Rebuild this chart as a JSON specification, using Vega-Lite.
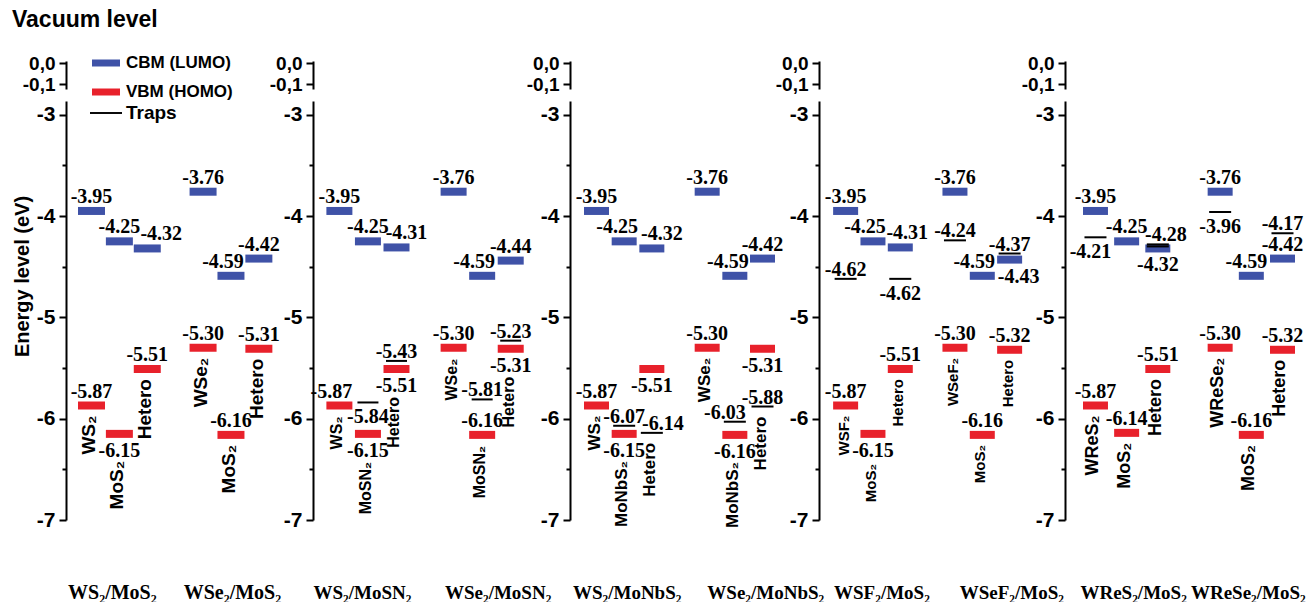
{
"$schema": "https://vega.github.io/schema/vega-lite/v6.json",
"padding": {"left": 12, "top": 9, "right": 0, "bottom": 0},
"background": "white",
"title": {"text": "Vacuum level", "anchor": "start", "frame": "bounds", "font": "Liberation Sans", "fontSize": 23, "fontWeight": "bold", "color": "black", "offset": 17},
"config": {
  "locale": {"number": {"decimal": ".", "thousands": ",", "grouping": [3], "currency": ["$", ""], "minus": "-"}},
  "view": {"stroke": null},
  "text": {"font": "Liberation Serif", "fontWeight": "bold", "fontSize": 20, "color": "black", "baseline": "alphabetic"},
  "axisX": {"domain": false, "ticks": false, "tickSize": 0, "grid": false, "labelAngle": 0, "labelPadding": 78, "labelBaseline": "alphabetic", "labelAlign": "center", "labelFont": "Liberation Serif", "labelFontWeight": "bold", "labelFontSize": 19, "labelColor": "black", "labelOverlap": false, "labelBound": false, "labelFlush": false, "title": null}
},
"datasets": {
"lev": [
{"p":1,"slot":"L1","type":"CBM (LUMO)","e":-3.95,"lab":"a"},
{"p":1,"slot":"L2","type":"CBM (LUMO)","e":-4.25,"lab":"a"},
{"p":1,"slot":"L3","type":"CBM (LUMO)","e":-4.32,"lab":"ar"},
{"p":1,"slot":"R1","type":"CBM (LUMO)","e":-3.76,"lab":"a"},
{"p":1,"slot":"R2","type":"CBM (LUMO)","e":-4.59,"lab":"al"},
{"p":1,"slot":"R3","type":"CBM (LUMO)","e":-4.42,"lab":"a"},
{"p":1,"slot":"L1","type":"VBM (HOMO)","e":-5.87,"lab":"a","name":"WS₂"},
{"p":1,"slot":"L2","type":"VBM (HOMO)","e":-6.15,"lab":"b","name":"MoS₂"},
{"p":1,"slot":"L3","type":"VBM (HOMO)","e":-5.51,"lab":"a","name":"Hetero"},
{"p":1,"slot":"R1","type":"VBM (HOMO)","e":-5.30,"lab":"a","name":"WSe₂"},
{"p":1,"slot":"R2","type":"VBM (HOMO)","e":-6.16,"lab":"a","name":"MoS₂"},
{"p":1,"slot":"R3","type":"VBM (HOMO)","e":-5.31,"lab":"a","name":"Hetero"},

{"p":2,"slot":"L1","type":"CBM (LUMO)","e":-3.95,"lab":"a"},
{"p":2,"slot":"L2","type":"CBM (LUMO)","e":-4.25,"lab":"a"},
{"p":2,"slot":"L3","type":"CBM (LUMO)","e":-4.31,"lab":"ar"},
{"p":2,"slot":"R1","type":"CBM (LUMO)","e":-3.76,"lab":"a"},
{"p":2,"slot":"R2","type":"CBM (LUMO)","e":-4.59,"lab":"al"},
{"p":2,"slot":"R3","type":"CBM (LUMO)","e":-4.44,"lab":"a"},
{"p":2,"slot":"L1","type":"VBM (HOMO)","e":-5.87,"lab":"al","name":"WS₂"},
{"p":2,"slot":"L2","type":"VBM (HOMO)","e":-6.15,"lab":"b","name":"MoSN₂"},
{"p":2,"slot":"L3","type":"VBM (HOMO)","e":-5.51,"lab":"b","name":"Hetero"},
{"p":2,"slot":"R1","type":"VBM (HOMO)","e":-5.30,"lab":"a","name":"WSe₂"},
{"p":2,"slot":"R2","type":"VBM (HOMO)","e":-6.16,"lab":"a","name":"MoSN₂"},
{"p":2,"slot":"R3","type":"VBM (HOMO)","e":-5.31,"lab":"b","name":"Hetero"},
{"p":2,"slot":"L2","type":"Traps","e":-5.84,"lab":"tb"},
{"p":2,"slot":"L3","type":"Traps","e":-5.43,"lab":"ta"},
{"p":2,"slot":"R2","type":"Traps","e":-5.81,"lab":"ta"},
{"p":2,"slot":"R3","type":"Traps","e":-5.23,"lab":"ta"},

{"p":3,"slot":"L1","type":"CBM (LUMO)","e":-3.95,"lab":"a"},
{"p":3,"slot":"L2","type":"CBM (LUMO)","e":-4.25,"lab":"al"},
{"p":3,"slot":"L3","type":"CBM (LUMO)","e":-4.32,"lab":"ar"},
{"p":3,"slot":"R1","type":"CBM (LUMO)","e":-3.76,"lab":"a"},
{"p":3,"slot":"R2","type":"CBM (LUMO)","e":-4.59,"lab":"al"},
{"p":3,"slot":"R3","type":"CBM (LUMO)","e":-4.42,"lab":"a"},
{"p":3,"slot":"L1","type":"VBM (HOMO)","e":-5.87,"lab":"a","name":"WS₂"},
{"p":3,"slot":"L2","type":"VBM (HOMO)","e":-6.15,"lab":"b","name":"MoNbS₂"},
{"p":3,"slot":"L3","type":"VBM (HOMO)","e":-5.51,"lab":"b"},
{"p":3,"slot":"R1","type":"VBM (HOMO)","e":-5.30,"lab":"a","name":"WSe₂"},
{"p":3,"slot":"R2","type":"VBM (HOMO)","e":-6.16,"lab":"b","name":"MoNbS₂"},
{"p":3,"slot":"R3","type":"VBM (HOMO)","e":-5.31,"lab":"b"},
{"p":3,"slot":"L2","type":"Traps","e":-6.07,"lab":"ta"},
{"p":3,"slot":"L3","type":"Traps","e":-6.14,"lab":"tar","name":"Hetero"},
{"p":3,"slot":"R2","type":"Traps","e":-6.03,"lab":"tal"},
{"p":3,"slot":"R3","type":"Traps","e":-5.88,"lab":"ta","name":"Hetero"},

{"p":4,"slot":"L1","type":"CBM (LUMO)","e":-3.95,"lab":"a"},
{"p":4,"slot":"L2","type":"CBM (LUMO)","e":-4.25,"lab":"al"},
{"p":4,"slot":"L3","type":"CBM (LUMO)","e":-4.31,"lab":"ar"},
{"p":4,"slot":"R1","type":"CBM (LUMO)","e":-3.76,"lab":"a"},
{"p":4,"slot":"R2","type":"CBM (LUMO)","e":-4.59,"lab":"al"},
{"p":4,"slot":"R3","type":"CBM (LUMO)","e":-4.43,"lab":"br"},
{"p":4,"slot":"L1","type":"VBM (HOMO)","e":-5.87,"lab":"a","name":"WSF₂"},
{"p":4,"slot":"L2","type":"VBM (HOMO)","e":-6.15,"lab":"b","name":"MoS₂"},
{"p":4,"slot":"L3","type":"VBM (HOMO)","e":-5.51,"lab":"a","name":"Hetero"},
{"p":4,"slot":"R1","type":"VBM (HOMO)","e":-5.30,"lab":"a","name":"WSeF₂"},
{"p":4,"slot":"R2","type":"VBM (HOMO)","e":-6.16,"lab":"a","name":"MoS₂"},
{"p":4,"slot":"R3","type":"VBM (HOMO)","e":-5.32,"lab":"a","name":"Hetero"},
{"p":4,"slot":"L1","type":"Traps","e":-4.62,"lab":"ta"},
{"p":4,"slot":"L3","type":"Traps","e":-4.62,"lab":"tb"},
{"p":4,"slot":"R1","type":"Traps","e":-4.24,"lab":"ta"},
{"p":4,"slot":"R3","type":"Traps","e":-4.37,"lab":"ta"},

{"p":5,"slot":"L1","type":"CBM (LUMO)","e":-3.95,"lab":"a"},
{"p":5,"slot":"L2","type":"CBM (LUMO)","e":-4.25,"lab":"a"},
{"p":5,"slot":"L3","type":"CBM (LUMO)","e":-4.32,"lab":"b"},
{"p":5,"slot":"R1","type":"CBM (LUMO)","e":-3.76,"lab":"a"},
{"p":5,"slot":"R2","type":"CBM (LUMO)","e":-4.59,"lab":"al"},
{"p":5,"slot":"R3","type":"CBM (LUMO)","e":-4.42,"lab":"a"},
{"p":5,"slot":"L1","type":"VBM (HOMO)","e":-5.87,"lab":"a","name":"WReS₂"},
{"p":5,"slot":"L2","type":"VBM (HOMO)","e":-6.14,"lab":"a","name":"MoS₂"},
{"p":5,"slot":"L3","type":"VBM (HOMO)","e":-5.51,"lab":"a","name":"Hetero"},
{"p":5,"slot":"R1","type":"VBM (HOMO)","e":-5.30,"lab":"a","name":"WReSe₂"},
{"p":5,"slot":"R2","type":"VBM (HOMO)","e":-6.16,"lab":"a","name":"MoS₂"},
{"p":5,"slot":"R3","type":"VBM (HOMO)","e":-5.32,"lab":"a","name":"Hetero"},
{"p":5,"slot":"L1","type":"Traps","e":-4.21,"lab":"tbl"},
{"p":5,"slot":"L3","type":"Traps","e":-4.28,"lab":"tar"},
{"p":5,"slot":"L3","type":"Traps","e":-4.30,"lab":"n"},
{"p":5,"slot":"R1","type":"Traps","e":-3.96,"lab":"tb"},
{"p":5,"slot":"R3","type":"Traps","e":-4.17,"lab":"ta"}
]
},
"spacing": 0,
"bounds": "flush",
"resolve": {"legend": {"color": "independent", "strokeDash": "independent"}},
"hconcat": [
{
"width": 247, "height": 459,
"data": {"name": "lev"},
"transform": [{"filter": "datum.p == 1"}],
"encoding": {
  "x": {"field": "slot", "type": "nominal", "scale": {"type": "band", "domain": ["L1","L2","L3","G","R1","R2","R3"], "paddingInner": 0, "paddingOuter": 0.927, "align": 0.223},
    "axis": {"labelFontSize": 20, "labelExpr": "datum.value == 'L2' ? 'WS₂/MoS₂' : datum.value == 'R2' ? 'WSe₂/MoS₂' : ''", "labelOffset": {"condition": {"test": "datum.value == 'L2'", "value": -7}, "value": 1.5}}},
  "y": {"field": "e", "type": "quantitative", "scale": {"domain": [-7, -2.47], "nice": false, "zero": false},
    "axis": {"title": "Energy level (eV)", "titleX": -34, "titleY": 215, "titleFont": "Liberation Sans", "titleFontSize": 20, "titleFontWeight": "bold", "titleColor": "black", "titleAngle": 270, "titleBaseline": "bottom", "titleAlign": "center",
      "values": [-7,-6.5,-6,-5.5,-5,-4.5,-4,-3.5,-3,-2.7,-2.49],
      "labelExpr": "datum.value == -2.49 ? '0,0' : datum.value == -2.7 ? '-0,1' : (datum.value % 1 == 0 ? '' + datum.value : '')",
      "labelFont": "Liberation Sans", "labelFontSize": {"condition": {"test": "datum.value > -3", "value": 19}, "value": 21}, "labelFontWeight": "bold", "labelColor": "black", "labelPadding": 4, "labelOverlap": false, "labelFlush": false, "labelBound": false,
      "grid": false, "domainColor": "black", "domainWidth": 2, "domainDash": [419, 12, 100], "tickColor": "black", "tickWidth": 2,
      "tickSize": {"condition": {"test": "datum.value < -3 && datum.value % 1 != 0", "value": 4}, "value": 7}}}
},
"layer": [
  {"transform": [{"filter": "datum.type == 'CBM (LUMO)' || datum.type == 'VBM (HOMO)'"}], "mark": {"type": "tick", "thickness": 8, "size": 27, "opacity": 1},
   "encoding": {"color": {"field": "type", "type": "nominal", "scale": {"domain": ["CBM (LUMO)", "VBM (HOMO)"], "range": ["#3f52a7", "#e8212b"]},
     "legend": {"orient": "none", "legendX": 26, "legendY": -12, "title": null, "padding": 0, "symbolType": "M-1,-0.25H1V0.25H-1Z", "symbolSize": 784, "symbolStrokeWidth": 0, "labelFont": "Liberation Sans", "labelFontWeight": "bold", "labelFontSize": 17, "labelColor": "black", "labelOffset": 6, "rowPadding": 7}}}},
  {"transform": [{"filter": "datum.type == 'Traps'"}], "mark": {"type": "tick", "thickness": 2, "size": 22, "color": "black", "opacity": 1},
   "encoding": {"strokeDash": {"field": "type", "type": "nominal", "scale": {"domain": ["Traps"], "range": [[1, 0]]},
     "legend": {"orient": "none", "legendX": 24, "legendY": 36, "title": null, "padding": 0, "symbolType": "M-1,-0.06H1V0.06H-1Z", "symbolSize": 1024, "symbolFillColor": "black", "symbolStrokeWidth": 0, "labelFont": "Liberation Sans", "labelFontWeight": "bold", "labelFontSize": 19, "labelColor": "black", "labelOffset": 4}}}},
  {"transform": [{"filter": "datum.lab == 'a'"}], "mark": {"type": "text", "dy": -8}, "encoding": {"text": {"field": "e", "type": "quantitative", "format": ".2f"}}},
  {"transform": [{"filter": "datum.lab == 'ar'"}], "mark": {"type": "text", "dy": -8, "dx": 14}, "encoding": {"text": {"field": "e", "type": "quantitative", "format": ".2f"}}},
  {"transform": [{"filter": "datum.lab == 'al'"}], "mark": {"type": "text", "dy": -8, "dx": -8}, "encoding": {"text": {"field": "e", "type": "quantitative", "format": ".2f"}}},
  {"transform": [{"filter": "datum.lab == 'b'"}], "mark": {"type": "text", "dy": 23}, "encoding": {"text": {"field": "e", "type": "quantitative", "format": ".2f"}}},
  {"transform": [{"filter": "datum.name && indexof(datum.lab, 'b') < 0"}], "mark": {"type": "text", "angle": 270, "align": "right", "baseline": "middle", "dx": -10, "dy": -2, "font": "Liberation Sans", "fontSize": 19, "fontWeight": "bold"}, "encoding": {"text": {"field": "name"}}},
  {"transform": [{"filter": "datum.name && indexof(datum.lab, 'b') >= 0"}], "mark": {"type": "text", "angle": 270, "align": "right", "baseline": "middle", "dx": -27, "dy": -2, "font": "Liberation Sans", "fontSize": 19, "fontWeight": "bold"}, "encoding": {"text": {"field": "name"}}}
]
},
{
"width": 257, "height": 459,
"data": {"name": "lev"},
"transform": [{"filter": "datum.p == 2"}],
"encoding": {
  "x": {"field": "slot", "type": "nominal", "scale": {"type": "band", "domain": ["L1","L2","L3","G","R1","R2","R3"], "paddingInner": 0, "paddingOuter": 1.277, "align": 0.212},
    "axis": {"labelExpr": "datum.value == 'L2' ? 'WS₂/MoSN₂' : datum.value == 'R2' ? 'WSe₂/MoSN₂' : ''", "labelOffset": {"condition": {"test": "datum.value == 'L2'", "value": -5.5}, "value": 16}}},
  "y": {"field": "e", "type": "quantitative", "scale": {"domain": [-7, -2.47], "nice": false, "zero": false},
    "axis": {"title": null,
      "values": [-7,-6.5,-6,-5.5,-5,-4.5,-4,-3.5,-3,-2.7,-2.49],
      "labelExpr": "datum.value == -2.49 ? '0,0' : datum.value == -2.7 ? '-0,1' : (datum.value % 1 == 0 ? '' + datum.value : '')",
      "labelFont": "Liberation Sans", "labelFontSize": {"condition": {"test": "datum.value > -3", "value": 19}, "value": 21}, "labelFontWeight": "bold", "labelColor": "black", "labelPadding": 4, "labelOverlap": false, "labelFlush": false, "labelBound": false,
      "grid": false, "domainColor": "black", "domainWidth": 2, "domainDash": [419, 12, 100], "tickColor": "black", "tickWidth": 2,
      "tickSize": {"condition": {"test": "datum.value < -3 && datum.value % 1 != 0", "value": 4}, "value": 7}}}
},
"layer": [
  {"transform": [{"filter": "datum.type == 'CBM (LUMO)' || datum.type == 'VBM (HOMO)'"}], "mark": {"type": "tick", "thickness": 8, "size": 26, "opacity": 1},
   "encoding": {"color": {"field": "type", "type": "nominal", "scale": {"domain": ["CBM (LUMO)", "VBM (HOMO)"], "range": ["#3f52a7", "#e8212b"]}, "legend": null}}},
  {"transform": [{"filter": "datum.type == 'Traps'"}], "mark": {"type": "tick", "thickness": 2, "size": 21, "color": "black", "opacity": 1},
   "encoding": {"strokeDash": {"field": "type", "type": "nominal", "scale": {"domain": ["Traps"], "range": [[1, 0]]}, "legend": null}}},
  {"transform": [{"filter": "datum.lab == 'a'"}], "mark": {"type": "text", "dy": -8}, "encoding": {"text": {"field": "e", "type": "quantitative", "format": ".2f"}}},
  {"transform": [{"filter": "datum.lab == 'ar'"}], "mark": {"type": "text", "dy": -8, "dx": 10}, "encoding": {"text": {"field": "e", "type": "quantitative", "format": ".2f"}}},
  {"transform": [{"filter": "datum.lab == 'al'"}], "mark": {"type": "text", "dy": -8, "dx": -8}, "encoding": {"text": {"field": "e", "type": "quantitative", "format": ".2f"}}},
  {"transform": [{"filter": "datum.lab == 'b'"}], "mark": {"type": "text", "dy": 23}, "encoding": {"text": {"field": "e", "type": "quantitative", "format": ".2f"}}},
  {"transform": [{"filter": "datum.lab == 'ta'"}], "mark": {"type": "text", "dy": -3}, "encoding": {"text": {"field": "e", "type": "quantitative", "format": ".2f"}}},
  {"transform": [{"filter": "datum.lab == 'tb'"}], "mark": {"type": "text", "dy": 21}, "encoding": {"text": {"field": "e", "type": "quantitative", "format": ".2f"}}},
  {"transform": [{"filter": "datum.name && indexof(datum.lab, 'b') < 0"}], "mark": {"type": "text", "angle": 270, "align": "right", "baseline": "middle", "dx": -11, "dy": -2, "font": "Liberation Sans", "fontSize": 16, "fontWeight": "bold"}, "encoding": {"text": {"field": "name"}}},
  {"transform": [{"filter": "datum.name && indexof(datum.lab, 'b') >= 0"}], "mark": {"type": "text", "angle": 270, "align": "right", "baseline": "middle", "dx": -28, "dy": -2, "font": "Liberation Sans", "fontSize": 16, "fontWeight": "bold"}, "encoding": {"text": {"field": "name"}}}
]
},
{
"width": 249, "height": 459,
"data": {"name": "lev"},
"transform": [{"filter": "datum.p == 3"}],
"encoding": {
  "x": {"field": "slot", "type": "nominal", "scale": {"type": "band", "domain": ["L1","L2","L3","G","R1","R2","R3"], "paddingInner": 0, "paddingOuter": 1.228, "align": 0.229},
    "axis": {"labelExpr": "datum.value == 'L2' ? 'WS₂/MoNbS₂' : datum.value == 'R2' ? 'WSe₂/MoNbS₂' : ''", "labelOffset": {"condition": {"test": "datum.value == 'L2'", "value": 3}, "value": 31}}},
  "y": {"field": "e", "type": "quantitative", "scale": {"domain": [-7, -2.47], "nice": false, "zero": false},
    "axis": {"title": null,
      "values": [-7,-6.5,-6,-5.5,-5,-4.5,-4,-3.5,-3,-2.7,-2.49],
      "labelExpr": "datum.value == -2.49 ? '0,0' : datum.value == -2.7 ? '-0,1' : (datum.value % 1 == 0 ? '' + datum.value : '')",
      "labelFont": "Liberation Sans", "labelFontSize": {"condition": {"test": "datum.value > -3", "value": 19}, "value": 21}, "labelFontWeight": "bold", "labelColor": "black", "labelPadding": 4, "labelOverlap": false, "labelFlush": false, "labelBound": false,
      "grid": false, "domainColor": "black", "domainWidth": 2, "domainDash": [419, 12, 100], "tickColor": "black", "tickWidth": 2,
      "tickSize": {"condition": {"test": "datum.value < -3 && datum.value % 1 != 0", "value": 4}, "value": 7}}}
},
"layer": [
  {"transform": [{"filter": "datum.type == 'CBM (LUMO)' || datum.type == 'VBM (HOMO)'"}], "mark": {"type": "tick", "thickness": 8, "size": 25, "opacity": 1},
   "encoding": {"color": {"field": "type", "type": "nominal", "scale": {"domain": ["CBM (LUMO)", "VBM (HOMO)"], "range": ["#3f52a7", "#e8212b"]}, "legend": null}}},
  {"transform": [{"filter": "datum.type == 'Traps'"}], "mark": {"type": "tick", "thickness": 2, "size": 22, "color": "black", "opacity": 1},
   "encoding": {"strokeDash": {"field": "type", "type": "nominal", "scale": {"domain": ["Traps"], "range": [[1, 0]]}, "legend": null}}},
  {"transform": [{"filter": "datum.lab == 'a'"}], "mark": {"type": "text", "dy": -8}, "encoding": {"text": {"field": "e", "type": "quantitative", "format": ".2f"}}},
  {"transform": [{"filter": "datum.lab == 'ar'"}], "mark": {"type": "text", "dy": -8, "dx": 10}, "encoding": {"text": {"field": "e", "type": "quantitative", "format": ".2f"}}},
  {"transform": [{"filter": "datum.lab == 'al'"}], "mark": {"type": "text", "dy": -8, "dx": -7}, "encoding": {"text": {"field": "e", "type": "quantitative", "format": ".2f"}}},
  {"transform": [{"filter": "datum.lab == 'b'"}], "mark": {"type": "text", "dy": 23}, "encoding": {"text": {"field": "e", "type": "quantitative", "format": ".2f"}}},
  {"transform": [{"filter": "datum.lab == 'ta'"}], "mark": {"type": "text", "dy": -3}, "encoding": {"text": {"field": "e", "type": "quantitative", "format": ".2f"}}},
  {"transform": [{"filter": "datum.lab == 'tar'"}], "mark": {"type": "text", "dy": -3, "dx": 11}, "encoding": {"text": {"field": "e", "type": "quantitative", "format": ".2f"}}},
  {"transform": [{"filter": "datum.lab == 'tal'"}], "mark": {"type": "text", "dy": -3, "dx": -10}, "encoding": {"text": {"field": "e", "type": "quantitative", "format": ".2f"}}},
  {"transform": [{"filter": "datum.name && indexof(datum.lab, 'b') < 0"}], "mark": {"type": "text", "angle": 270, "align": "right", "baseline": "middle", "dx": -10, "dy": -2, "font": "Liberation Sans", "fontSize": 17, "fontWeight": "bold"}, "encoding": {"text": {"field": "name"}}},
  {"transform": [{"filter": "datum.name && indexof(datum.lab, 'b') >= 0"}], "mark": {"type": "text", "angle": 270, "align": "right", "baseline": "middle", "dx": -27, "dy": -2, "font": "Liberation Sans", "fontSize": 17, "fontWeight": "bold"}, "encoding": {"text": {"field": "name"}}}
]
},
{
"width": 246, "height": 459,
"data": {"name": "lev"},
"transform": [{"filter": "datum.p == 4"}],
"encoding": {
  "x": {"field": "slot", "type": "nominal", "scale": {"type": "band", "domain": ["L1","L2","L3","G","R1","R2","R3"], "paddingInner": 0, "paddingOuter": 1.127, "align": 0.237},
    "axis": {"labelExpr": "datum.value == 'L2' ? 'WSF₂/MoS₂' : datum.value == 'R2' ? 'WSeF₂/MoS₂' : ''", "labelOffset": {"condition": {"test": "datum.value == 'L2'", "value": 9}, "value": 29.5}}},
  "y": {"field": "e", "type": "quantitative", "scale": {"domain": [-7, -2.47], "nice": false, "zero": false},
    "axis": {"title": null,
      "values": [-7,-6.5,-6,-5.5,-5,-4.5,-4,-3.5,-3,-2.7,-2.49],
      "labelExpr": "datum.value == -2.49 ? '0,0' : datum.value == -2.7 ? '-0,1' : (datum.value % 1 == 0 ? '' + datum.value : '')",
      "labelFont": "Liberation Sans", "labelFontSize": {"condition": {"test": "datum.value > -3", "value": 19}, "value": 21}, "labelFontWeight": "bold", "labelColor": "black", "labelPadding": 4, "labelOverlap": false, "labelFlush": false, "labelBound": false,
      "grid": false, "domainColor": "black", "domainWidth": 2, "domainDash": [419, 12, 100], "tickColor": "black", "tickWidth": 2,
      "tickSize": {"condition": {"test": "datum.value < -3 && datum.value % 1 != 0", "value": 4}, "value": 7}}}
},
"layer": [
  {"transform": [{"filter": "datum.type == 'CBM (LUMO)' || datum.type == 'VBM (HOMO)'"}], "mark": {"type": "tick", "thickness": 8, "size": 25, "opacity": 1},
   "encoding": {"color": {"field": "type", "type": "nominal", "scale": {"domain": ["CBM (LUMO)", "VBM (HOMO)"], "range": ["#3f52a7", "#e8212b"]}, "legend": null}}},
  {"transform": [{"filter": "datum.type == 'Traps'"}], "mark": {"type": "tick", "thickness": 2, "size": 22, "color": "black", "opacity": 1},
   "encoding": {"strokeDash": {"field": "type", "type": "nominal", "scale": {"domain": ["Traps"], "range": [[1, 0]]}, "legend": null}}},
  {"transform": [{"filter": "datum.lab == 'a'"}], "mark": {"type": "text", "dy": -8}, "encoding": {"text": {"field": "e", "type": "quantitative", "format": ".2f"}}},
  {"transform": [{"filter": "datum.lab == 'ar'"}], "mark": {"type": "text", "dy": -8, "dx": 7}, "encoding": {"text": {"field": "e", "type": "quantitative", "format": ".2f"}}},
  {"transform": [{"filter": "datum.lab == 'al'"}], "mark": {"type": "text", "dy": -8, "dx": -8}, "encoding": {"text": {"field": "e", "type": "quantitative", "format": ".2f"}}},
  {"transform": [{"filter": "datum.lab == 'b'"}], "mark": {"type": "text", "dy": 23}, "encoding": {"text": {"field": "e", "type": "quantitative", "format": ".2f"}}},
  {"transform": [{"filter": "datum.lab == 'br'"}], "mark": {"type": "text", "dy": 23, "dx": 9}, "encoding": {"text": {"field": "e", "type": "quantitative", "format": ".2f"}}},
  {"transform": [{"filter": "datum.lab == 'ta'"}], "mark": {"type": "text", "dy": -3}, "encoding": {"text": {"field": "e", "type": "quantitative", "format": ".2f"}}},
  {"transform": [{"filter": "datum.lab == 'tb'"}], "mark": {"type": "text", "dy": 21}, "encoding": {"text": {"field": "e", "type": "quantitative", "format": ".2f"}}},
  {"transform": [{"filter": "datum.name && indexof(datum.lab, 'b') < 0"}], "mark": {"type": "text", "angle": 270, "align": "right", "baseline": "middle", "dx": -10, "dy": -2, "font": "Liberation Sans", "fontSize": 15, "fontWeight": "bold"}, "encoding": {"text": {"field": "name"}}},
  {"transform": [{"filter": "datum.name && indexof(datum.lab, 'b') >= 0"}], "mark": {"type": "text", "angle": 270, "align": "right", "baseline": "middle", "dx": -30, "dy": -2, "font": "Liberation Sans", "fontSize": 15, "fontWeight": "bold"}, "encoding": {"text": {"field": "name"}}}
]
},
{
"width": 243, "height": 459,
"data": {"name": "lev"},
"transform": [{"filter": "datum.p == 5"}],
"encoding": {
  "x": {"field": "slot", "type": "nominal", "scale": {"type": "band", "domain": ["L1","L2","L3","G","R1","R2","R3"], "paddingInner": 0, "paddingOuter": 0.398, "align": 0.6},
    "axis": {"labelExpr": "datum.value == 'L2' ? 'WReS₂/MoS₂' : datum.value == 'R2' ? 'WReSe₂/MoS₂' : ''", "labelOffset": {"condition": {"test": "datum.value == 'L2'", "value": 7}, "value": -3}}},
  "y": {"field": "e", "type": "quantitative", "scale": {"domain": [-7, -2.47], "nice": false, "zero": false},
    "axis": {"title": null,
      "values": [-7,-6.5,-6,-5.5,-5,-4.5,-4,-3.5,-3,-2.7,-2.49],
      "labelExpr": "datum.value == -2.49 ? '0,0' : datum.value == -2.7 ? '-0,1' : (datum.value % 1 == 0 ? '' + datum.value : '')",
      "labelFont": "Liberation Sans", "labelFontSize": {"condition": {"test": "datum.value > -3", "value": 19}, "value": 21}, "labelFontWeight": "bold", "labelColor": "black", "labelPadding": 4, "labelOverlap": false, "labelFlush": false, "labelBound": false,
      "grid": false, "domainColor": "black", "domainWidth": 2, "domainDash": [419, 12, 100], "tickColor": "black", "tickWidth": 2,
      "tickSize": {"condition": {"test": "datum.value < -3 && datum.value % 1 != 0", "value": 4}, "value": 7}}}
},
"layer": [
  {"transform": [{"filter": "datum.type == 'CBM (LUMO)' || datum.type == 'VBM (HOMO)'"}], "mark": {"type": "tick", "thickness": 8, "size": 25, "opacity": 1},
   "encoding": {"color": {"field": "type", "type": "nominal", "scale": {"domain": ["CBM (LUMO)", "VBM (HOMO)"], "range": ["#3f52a7", "#e8212b"]}, "legend": null}}},
  {"transform": [{"filter": "datum.type == 'Traps'"}], "mark": {"type": "tick", "thickness": 2, "size": 22, "color": "black", "opacity": 1},
   "encoding": {"strokeDash": {"field": "type", "type": "nominal", "scale": {"domain": ["Traps"], "range": [[1, 0]]}, "legend": null}}},
  {"transform": [{"filter": "datum.lab == 'a'"}], "mark": {"type": "text", "dy": -8}, "encoding": {"text": {"field": "e", "type": "quantitative", "format": ".2f"}}},
  {"transform": [{"filter": "datum.lab == 'al'"}], "mark": {"type": "text", "dy": -8, "dx": -5}, "encoding": {"text": {"field": "e", "type": "quantitative", "format": ".2f"}}},
  {"transform": [{"filter": "datum.lab == 'b'"}], "mark": {"type": "text", "dy": 23}, "encoding": {"text": {"field": "e", "type": "quantitative", "format": ".2f"}}},
  {"transform": [{"filter": "datum.lab == 'ta'"}], "mark": {"type": "text", "dy": -3}, "encoding": {"text": {"field": "e", "type": "quantitative", "format": ".2f"}}},
  {"transform": [{"filter": "datum.lab == 'tar'"}], "mark": {"type": "text", "dy": -3, "dx": 8}, "encoding": {"text": {"field": "e", "type": "quantitative", "format": ".2f"}}},
  {"transform": [{"filter": "datum.lab == 'tb'"}], "mark": {"type": "text", "dy": 21}, "encoding": {"text": {"field": "e", "type": "quantitative", "format": ".2f"}}},
  {"transform": [{"filter": "datum.lab == 'tbl'"}], "mark": {"type": "text", "dy": 21, "dx": -5}, "encoding": {"text": {"field": "e", "type": "quantitative", "format": ".2f"}}},
  {"transform": [{"filter": "datum.name && indexof(datum.lab, 'b') < 0"}], "mark": {"type": "text", "angle": 270, "align": "right", "baseline": "middle", "dx": -10, "dy": -2, "font": "Liberation Sans", "fontSize": 18, "fontWeight": "bold"}, "encoding": {"text": {"field": "name"}}}
]
}
]
}
